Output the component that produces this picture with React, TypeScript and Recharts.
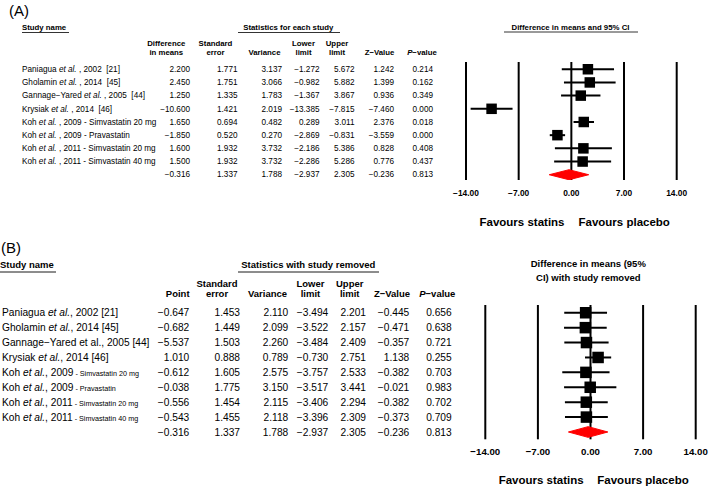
import React from 'react'
import { ComposedChart, Scatter, XAxis, YAxis, ReferenceLine, ErrorBar } from 'recharts'

// study labels (rows 0..7), the last row of each panel is the pooled result
const authors = ['Paniagua', 'Gholamin', 'Gannage\u2212Yared', 'Krysiak', 'Koh', 'Koh', 'Koh', 'Koh']
const years = ['2002', '2014', '2005', '2014', '2009', '2009', '2011', '2011']
const refs = ['[21]', '[45]', '[44]', '[46]', '', '', '', '']
const drugs = ['', '', '', '', ' - Simvastatin 20 mg', ' - Pravastatin', ' - Simvastatin 20 mg', ' - Simvastatin 40 mg']

// (A) statistics for each study
const diffA = [2.2, 2.45, 1.25, -10.6, 1.65, -1.85, 1.6, 1.5, -0.316]
const seA = [1.771, 1.751, 1.335, 1.421, 0.694, 0.52, 1.932, 1.932, 1.337]
const varA = [3.137, 3.066, 1.783, 2.019, 0.482, 0.27, 3.732, 3.732, 1.788]
const lowerA = [-1.272, -0.982, -1.367, -13.385, 0.289, -2.869, -2.186, -2.286, -2.937]
const upperA = [5.672, 5.882, 3.867, -7.815, 3.011, -0.831, 5.386, 5.286, 2.305]
const zA = [1.242, 1.399, 0.936, -7.46, 2.376, -3.559, 0.828, 0.776, -0.236]
const pA = [0.214, 0.162, 0.349, 0.0, 0.018, 0.0, 0.408, 0.437, 0.813]

// (B) statistics with study removed
// the published table prints -5.537 for Gannage-Yared, the plot shows -0.537
const pointB = [-0.647, -0.682, -0.537, 1.01, -0.612, -0.038, -0.556, -0.543, -0.316]
const pointPrintedB = [-0.647, -0.682, -5.537, 1.01, -0.612, -0.038, -0.556, -0.543, -0.316]
const seB = [1.453, 1.449, 1.503, 0.888, 1.605, 1.775, 1.454, 1.455, 1.337]
const varB = [2.11, 2.099, 2.26, 0.789, 2.575, 3.15, 2.115, 2.118, 1.788]
const lowerB = [-3.494, -3.522, -3.484, -0.73, -3.757, -3.517, -3.406, -3.396, -2.937]
const upperB = [2.201, 2.157, 2.409, 2.751, 2.533, 3.441, 2.294, 2.309, 2.305]
const zB = [-0.445, -0.471, -0.357, 1.138, -0.382, -0.021, -0.382, -0.373, -0.236]
const pB = [0.656, 0.638, 0.721, 0.255, 0.703, 0.983, 0.702, 0.709, 0.813]

const xTicks = [-14, -7, 0, 7, 14]

const FONT = '"Liberation Sans", Arial, sans-serif'
const RED = '#ff0000'
const NB = '\u00a0'

const fmt = (v: number) => (v < 0 ? '\u2212' : '') + Math.abs(v).toFixed(3)
const fmtTick = (v: number) => (v < 0 ? '\u2212' : '') + Math.abs(v).toFixed(2)

function ForestPlot(props: {
  means: number[]
  lower: number[]
  upper: number[]
  width: number
  height: number
  margin: { top: number; right: number; bottom: number; left: number }
  yDomain: [number, number]
  box: number
  diamondHalf: number
  tickFont: number
  tickMargin: number
}) {
  const { means, lower, upper, box, diamondHalf } = props
  const k = means.length - 1
  const studies = means.slice(0, k).map((m, i) => ({ x: m, y: i, err: [m - lower[i], upper[i] - m] }))
  const diamond = [
    { x: lower[k], y: k },
    { x: means[k], y: k - diamondHalf },
    { x: upper[k], y: k },
    { x: means[k], y: k + diamondHalf },
    { x: lower[k], y: k },
  ]
  const Square = (p: any) => (
    <rect x={p.cx - box / 2} y={p.cy - box / 2} width={box} height={box} fill="#000" />
  )
  return (
    <ComposedChart width={props.width} height={props.height} margin={props.margin}>
      <XAxis
        type="number"
        dataKey="x"
        domain={[-14, 14]}
        ticks={xTicks}
        interval={0}
        allowDataOverflow
        tickFormatter={fmtTick}
        axisLine={false}
        tickLine={false}
        tickMargin={props.tickMargin}
        height={20}
        tick={{ fontSize: props.tickFont, fontWeight: 'bold', fill: '#000', fontFamily: FONT }}
      />
      <YAxis type="number" dataKey="y" domain={props.yDomain} reversed hide allowDataOverflow />
      {xTicks.map((t) => (
        <ReferenceLine key={t} x={t} stroke="#000" strokeWidth={2} />
      ))}
      <Scatter data={studies} shape={Square} isAnimationActive={false}>
        <ErrorBar dataKey="err" direction="x" width={0} stroke="#000" strokeWidth={2} isAnimationActive={false} />
      </Scatter>
      <Scatter
        data={diamond}
        line={{ stroke: RED, fill: RED, strokeWidth: 1 }}
        lineType="joint"
        shape={() => <g />}
        isAnimationActive={false}
      />
    </ComposedChart>
  )
}

function Name({ i, x, y, size, italic, drugSize, wide }: any) {
  const sep = wide ? NB + ',' + NB : ',' + NB
  const ref = refs[i] ? (wide ? NB + NB : NB) + refs[i] : ''
  return (
    <text x={x} y={y} fontSize={size} fill="#000">
      {authors[i] + NB}
      <tspan fontStyle={italic ? 'italic' : 'normal'}>et al.</tspan>
      {sep + years[i] + ref}
      {drugs[i] && (
        <tspan fontSize={drugSize} fill="#000">
          {drugs[i]}
        </tspan>
      )}
    </text>
  )
}

export default function App() {
  const rowA = (i: number) => 69.3 + i * 13.1
  const rowB = (i: number) => 312.7 + i * 14.91
  const colsA = [
    { v: diffA, r: 190 },
    { v: seA, r: 237.5 },
    { v: varA, r: 282 },
    { v: lowerA, r: 319.5 },
    { v: upperA, r: 354.5 },
    { v: zA, r: 394 },
    { v: pA, r: 433 },
  ]
  const colsB = [
    { v: pointPrintedB, r: 189.3 },
    { v: seB, r: 240 },
    { v: varB, r: 288.3 },
    { v: lowerB, r: 328.3 },
    { v: upperB, r: 366 },
    { v: zB, r: 409.3 },
    { v: pB, r: 451.7 },
  ]
  const fA = 8.2
  const hA = 7.8
  const fB = 10.2
  const hB = 9.5
  return (
    <div
      style={{
        position: 'absolute',
        left: 0,
        top: 0,
        width: 709,
        height: 488,
        background: '#fff',
        fontFamily: FONT,
      }}
    >
      <div style={{ position: 'absolute', left: 440, top: 0 }}>
        <ForestPlot
          means={diffA}
          lower={lowerA}
          upper={upperA}
          width={269}
          height={240}
          margin={{ top: 62, right: 32.3, bottom: 40, left: 26 }}
          yDomain={[-0.55, 8.4]}
          box={10.5}
          diamondHalf={0.38}
          tickFont={8.4}
          tickMargin={4}
        />
      </div>
      <div style={{ position: 'absolute', left: 460, top: 240 }}>
        <ForestPlot
          means={pointB}
          lower={lowerB}
          upper={upperB}
          width={249}
          height={248}
          margin={{ top: 65, right: 13.3, bottom: 28.7, left: 25.3 }}
          yDomain={[-0.52, 8.49]}
          box={11.5}
          diamondHalf={0.36}
          tickFont={9.7}
          tickMargin={3}
        />
      </div>
      <svg
        width={709}
        height={488}
        style={{ position: 'absolute', left: 0, top: 0, pointerEvents: 'none' }}
        fontFamily={FONT}
        fill="#000"
      >
        {/* panel A */}
        <text x={9} y={15.5} fontSize={15}>(A)</text>
        <g fontSize={hA} fontWeight="bold">
          <text x={22} y={30}>Study name</text>
          <text x={288.3} y={30} textAnchor="middle">Statistics for each study</text>
          <text x={570.5} y={29.5} textAnchor="middle">Difference in means and 95% CI</text>
          <g textAnchor="middle">
            <text x={166.3} y={46.1}>Difference</text>
            <text x={166.3} y={55.1}>in means</text>
            <text x={215.5} y={46.1}>Standard</text>
            <text x={215.5} y={55.1}>error</text>
            <text x={264.5} y={55.1}>Variance</text>
            <text x={303.5} y={46.1}>Lower</text>
            <text x={303.5} y={55.1}>limit</text>
            <text x={337} y={46.1}>Upper</text>
            <text x={337} y={55.1}>limit</text>
            <text x={379.5} y={55.1}>Z{'\u2212'}Value</text>
            <text x={422} y={55.1}>
              <tspan fontStyle="italic">P</tspan>
              {'\u2212'}value
            </text>
          </g>
        </g>
        <g stroke="#000" strokeWidth={0.8}>
          <line x1={22} x2={69} y1={32.5} y2={32.5} />
          <line x1={238} x2={340} y1={32.5} y2={32.5} />
          <line x1={504} x2={638} y1={32} y2={32} />
        </g>
        {authors.map((_, i) => (
          <Name key={i} i={i} x={22} y={rowA(i) + 2.9} size={fA} italic drugSize={fA} wide />
        ))}
        <g fontSize={fA} textAnchor="end">
          {colsA.map((c, j) =>
            c.v.map((v, i) => (
              <text key={j + '-' + i} x={c.r} y={rowA(i) + 2.9}>
                {fmt(v)}
              </text>
            ))
          )}
        </g>
        <g fontSize={11.5} fontWeight="bold" textAnchor="middle">
          <text x={522} y={226.3}>Favours statins</text>
          <text x={624.2} y={226.3}>Favours placebo</text>
        </g>

        {/* panel B */}
        <text x={1} y={253} fontSize={15}>(B)</text>
        <g fontSize={hB} fontWeight="bold">
          <text x={0} y={268.3}>Study name</text>
          <text x={308.3} y={268.3} textAnchor="middle">Statistics with study removed</text>
          <text x={588.3} y={267.3} textAnchor="middle">Difference in means (95%</text>
          <text x={588.3} y={280.6} textAnchor="middle">CI) with study removed</text>
          <g textAnchor="middle">
            <text x={177.7} y={297.3}>Point</text>
            <text x={217} y={286.6}>Standard</text>
            <text x={217} y={297.3}>error</text>
            <text x={267.5} y={297.3}>Variance</text>
            <text x={310.5} y={286.6}>Lower</text>
            <text x={310.5} y={297.3}>limit</text>
            <text x={349.7} y={286.6}>Upper</text>
            <text x={349.7} y={297.3}>limit</text>
            <text x={392} y={297.3}>Z{'\u2212'}Value</text>
            <text x={437.3} y={297.3}>
              <tspan fontStyle="italic">P</tspan>
              {'\u2212'}value
            </text>
          </g>
        </g>
        <g stroke="#000" strokeWidth={0.9}>
          <line x1={0} x2={56} y1={272} y2={272} />
          <line x1={238} x2={379} y1={272} y2={272} />
        </g>
        {authors.map((_, i) => (
          <Name key={i} i={i} x={2} y={rowB(i) + 3.6} size={fB} italic={i !== 2} drugSize={7.2} />
        ))}
        <g fontSize={fB} textAnchor="end">
          {colsB.map((c, j) =>
            c.v.map((v, i) => (
              <text key={j + '-' + i} x={c.r} y={rowB(i) + 3.6}>
                {fmt(v)}
              </text>
            ))
          )}
        </g>
        <g fontSize={11.5} fontWeight="bold" textAnchor="middle">
          <text x={541.2} y={484}>Favours statins</text>
          <text x={643} y={484}>Favours placebo</text>
        </g>
      </svg>
    </div>
  )
}
